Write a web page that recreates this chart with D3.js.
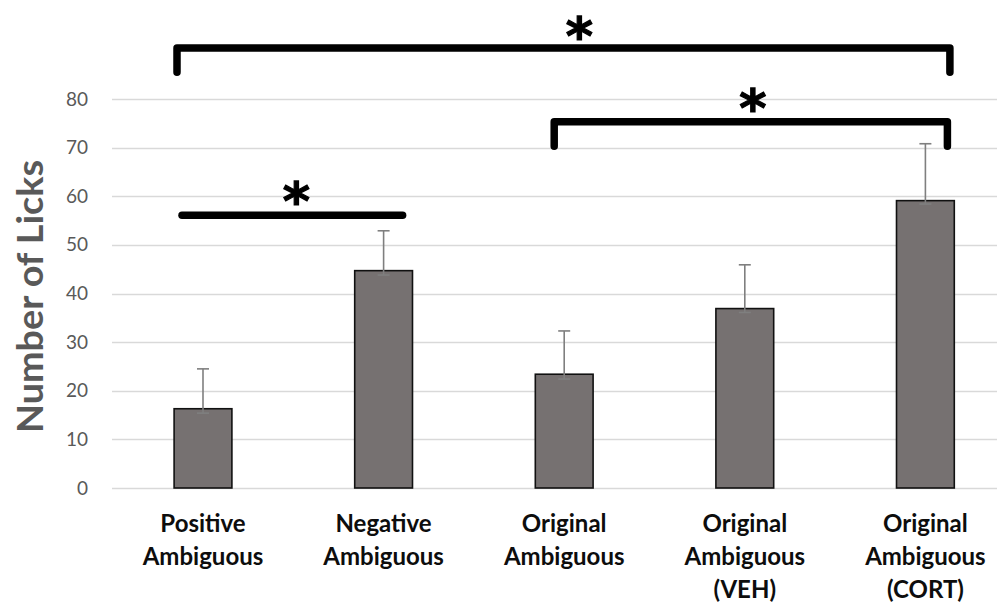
<!DOCTYPE html>
<html>
<head>
<meta charset="utf-8">
<script src="https://cdn.jsdelivr.net/npm/d3@7/dist/d3.min.js"></script>
<style>
  html, body { margin: 0; padding: 0; background: #fff; }
  svg { display: block; }
</style>
</head>
<body>
<svg id="chart" width="997" height="604"></svg>
<script>
// Lick counts per test condition (mean, with upper / lower error extents)
const categories = [
  ["Positive", "Ambiguous"],
  ["Negative", "Ambiguous"],
  ["Original", "Ambiguous"],
  ["Original", "Ambiguous", "(VEH)"],
  ["Original", "Ambiguous", "(CORT)"]
];
const means      = [16.3, 44.7, 23.4, 36.9, 59.1];
const errorPlus  = [8.2, 8.2, 8.9, 9.0, 11.7];
const errorMinus = [0.9, 0.9, 1.0, 0.8, 0.7];
const yTicks     = [0, 10, 20, 30, 40, 50, 60, 70, 80];
const yTitle     = "Number of Licks";

// Significance markers: category pair, bracket height (in licks), tick drop
const sigFrom  = [0, 2, 0];
const sigTo    = [4, 4, 1];
const sigLevel = [90.5, 75.3, 56.1];
const sigDrop  = [5, 5, 0];
const sigLabel = ["*", "*", "*"];

const svg = d3.select("#chart");
const keys = categories.map((c, i) => i);

const x = d3.scaleBand()
  .domain(keys)
  .range([112.7, 1015.7])
  .paddingInner(0.68)
  .paddingOuter(0.34);

const y = d3.scaleLinear().domain([0, 80]).range([488, 99]);

// gridlines
svg.append("g")
  .selectAll("line")
  .data(yTicks)
  .join("line")
  .attr("x1", 112).attr("x2", 997)
  .attr("y1", d => Math.round(y(d)) + 0.5)
  .attr("y2", d => Math.round(y(d)) + 0.5)
  .attr("stroke", "#d9d9d9")
  .attr("stroke-width", 1.3);

// y tick labels via axis
const yAxis = svg.append("g")
  .attr("transform", "translate(96,0)")
  .call(d3.axisLeft(y).tickValues(yTicks).tickSize(0).tickPadding(8));
yAxis.select(".domain").remove();
yAxis.selectAll("text")
  .attr("fill", "#595959")
  .style("font-family", "Lato, 'Open Sans', sans-serif")
  .style("font-size", "19px");

// y title
svg.append("text")
  .attr("transform", "translate(43,296.5) rotate(-90)")
  .attr("text-anchor", "middle")
  .attr("fill", "#595959")
  .attr("textLength", 273)
  .attr("lengthAdjust", "spacingAndGlyphs")
  .style("font-family", "Lato, 'Open Sans', sans-serif")
  .style("font-weight", "bold")
  .style("font-size", "36px")
  .text(yTitle);

// bars
svg.append("g")
  .selectAll("rect")
  .data(means)
  .join("rect")
  .attr("x", (d, i) => x(i))
  .attr("y", d => y(d))
  .attr("width", x.bandwidth())
  .attr("height", d => y(0) - y(d))
  .attr("fill", "#767171")
  .attr("stroke", "#111")
  .attr("stroke-width", 1.6);

// error bars
const cx = i => x(i) + x.bandwidth() / 2;
const eb = svg.append("g").attr("stroke", "#7f7f7f").attr("stroke-width", 1.6);
means.forEach((m, i) => {
  const top = y(m + errorPlus[i]);
  const bot = y(m - errorMinus[i]);
  eb.append("line").attr("x1", cx(i)).attr("x2", cx(i)).attr("y1", top).attr("y2", bot);
  eb.append("line").attr("x1", cx(i) - 6).attr("x2", cx(i) + 6).attr("y1", top).attr("y2", top);
  eb.append("line").attr("x1", cx(i) - 6).attr("x2", cx(i) + 6).attr("y1", bot).attr("y2", bot);
});

// category labels
const lab = svg.append("g");
categories.forEach((lines, i) => {
  const t = lab.append("text")
    .attr("text-anchor", "middle")
    .attr("fill", "#0d0d0d")
    .style("font-family", "Lato, 'Open Sans', sans-serif")
    .style("font-weight", "bold")
    .style("font-size", "24px");
  lines.forEach((s, j) => {
    t.append("tspan")
      .attr("x", cx(i))
      .attr("y", 532 + j * 33)
      .text(s);
  });
});

// significance brackets
const bracketInset = [[-26, 24.5], [-10, 22], [-21, 19]];
const starShift = [16, 2, 4];
const starRaise = [6, 4.5, 4];
const sig = svg.append("g");
sigFrom.forEach((a, k) => {
  const x1 = cx(a) + bracketInset[k][0];
  const x2 = cx(sigTo[k]) + bracketInset[k][1];
  const yl = y(sigLevel[k]);
  const yd = y(sigLevel[k] - sigDrop[k]);
  sig.append("path")
    .attr("d", sigDrop[k] > 0
      ? `M${x1},${yd}V${yl}H${x2}V${yd}`
      : `M${x1},${yl}H${x2}`)
    .attr("fill", "none")
    .attr("stroke", "#000")
    .attr("stroke-width", 7.5)
    .attr("stroke-linecap", "round")
    .attr("stroke-linejoin", "round");
  sig.append("text")
    .attr("x", (x1 + x2) / 2 + starShift[k])
    .attr("y", yl + starRaise[k])
    .attr("text-anchor", "middle")
    .attr("fill", "#000")
    .attr("stroke", "#000")
    .attr("stroke-width", 1.2)
    .style("font-family", "'DejaVu Sans', sans-serif")
    .style("font-weight", "bold")
    .style("font-size", "52px")
    .text(sigLabel[k]);
});
</script>
</body>
</html>
